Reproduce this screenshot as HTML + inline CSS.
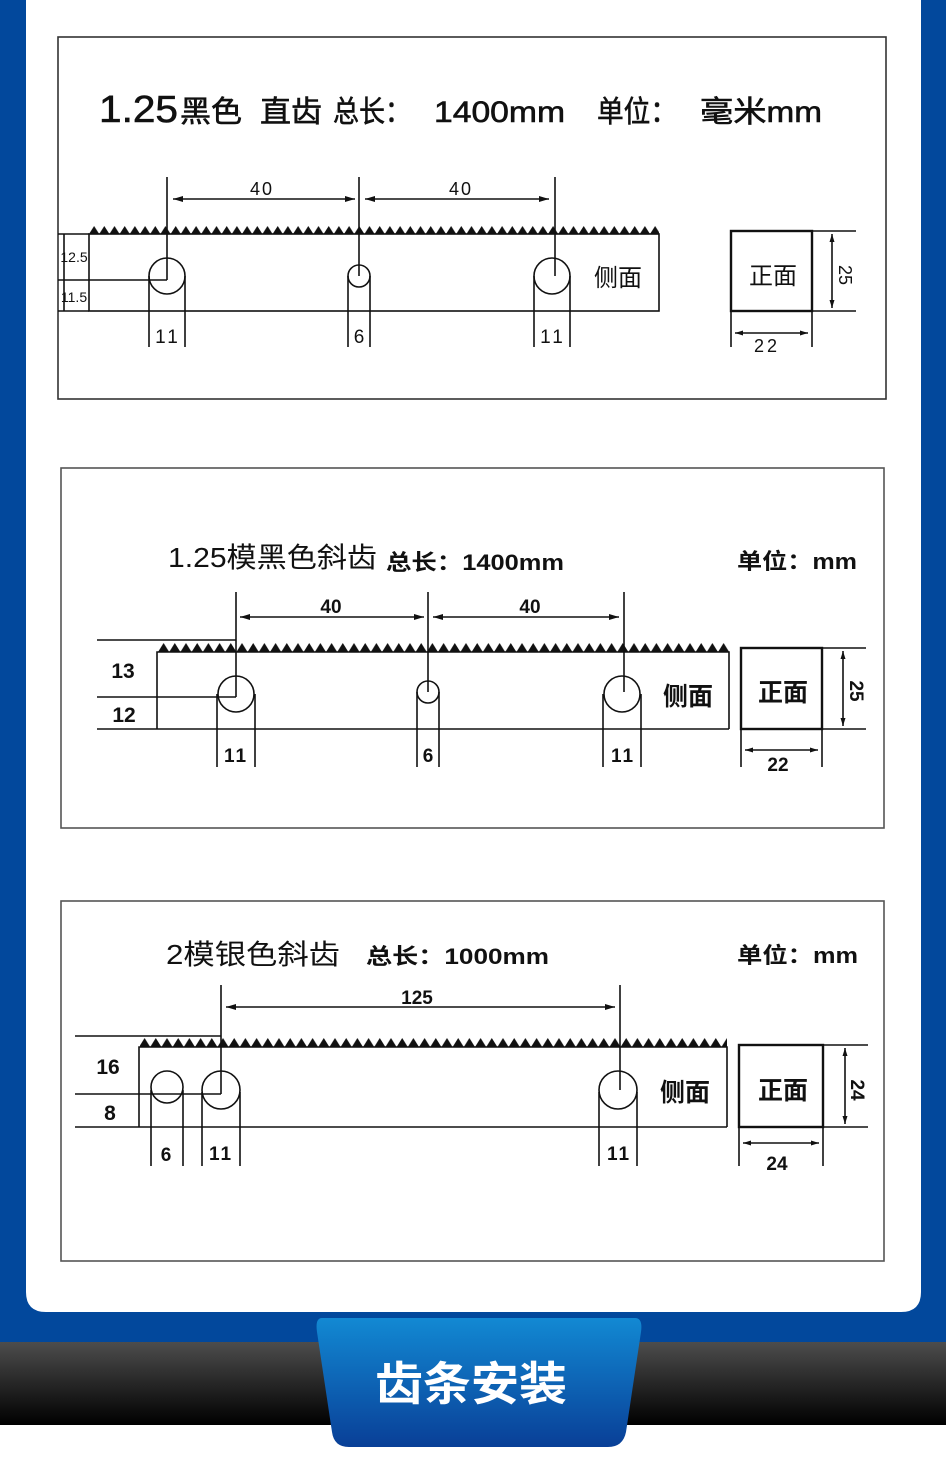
<!DOCTYPE html>
<html><head><meta charset="utf-8"><style>
html,body{margin:0;padding:0;background:#fff;}
svg{display:block;}
text{font-family:"Liberation Sans","Noto Sans CJK SC",sans-serif;fill:#111;}
</style></head><body>
<svg width="946" height="1465" viewBox="0 0 946 1465" xmlns="http://www.w3.org/2000/svg">
<defs>
<marker id="a" viewBox="0 0 10 6" refX="10" refY="3" markerWidth="10" markerHeight="6" orient="auto-start-reverse" markerUnits="userSpaceOnUse"><path d="M0,0 L10,3 L0,6z" fill="#111"/></marker>
<marker id="s" viewBox="0 0 8 5" refX="8" refY="2.5" markerWidth="8" markerHeight="5" orient="auto-start-reverse" markerUnits="userSpaceOnUse"><path d="M0,0 L8,2.5 L0,5z" fill="#111"/></marker>
<pattern id="t1" x="89" y="226" width="10.2" height="8" patternUnits="userSpaceOnUse"><path d="M0,8 L5.1,0 L10.2,8z" fill="#111"/></pattern>
<pattern id="t2" x="158" y="643" width="11.2" height="9" patternUnits="userSpaceOnUse"><path d="M0,9 L5.6,0 L11.2,9z" fill="#111"/></pattern>
<pattern id="t3" x="139" y="1038" width="11.2" height="9" patternUnits="userSpaceOnUse"><path d="M0,9 L5.6,0 L11.2,9z" fill="#111"/></pattern>
<linearGradient id="dk" x1="0" y1="0" x2="0" y2="1"><stop offset="0" stop-color="#4d4d4d"/><stop offset="1" stop-color="#000"/></linearGradient>
<linearGradient id="bl" x1="0" y1="0" x2="0" y2="1"><stop offset="0" stop-color="#1289d3"/><stop offset="1" stop-color="#093f97"/></linearGradient>
</defs>
<rect x="0" y="0" width="946" height="1342" fill="#02489c"/>
<path d="M26,0 H921 V1292 Q921,1312 901,1312 H46 Q26,1312 26,1292z" fill="#fff"/>
<rect x="0" y="1342" width="946" height="83" fill="url(#dk)"/>
<path d="M322,1318 H635 Q643,1318 641,1332 L626,1432 Q623,1447 608,1447 H349 Q334,1447 332,1432 L317,1332 Q315,1318 322,1318z" fill="url(#bl)"/>
<text x="375" y="1400" font-size="46" font-weight="bold" textLength="192" lengthAdjust="spacingAndGlyphs" style="fill:#fff">齿条安装</text>

<g stroke="#111" fill="none" stroke-width="1.6">
<!-- Diagram 1 -->
<rect x="58" y="37" width="828" height="362" stroke="#333"/>
<rect x="89" y="226" width="570" height="8" fill="url(#t1)" stroke="none"/>
<rect x="89" y="234" width="570" height="77"/>
<line x1="58" y1="234" x2="89" y2="234"/><line x1="58" y1="280" x2="167" y2="280"/><line x1="58" y1="311" x2="89" y2="311"/>
<line x1="64" y1="234" x2="64" y2="311"/>
<line x1="167" y1="177" x2="167" y2="280"/><line x1="359" y1="177" x2="359" y2="276"/><line x1="555" y1="177" x2="555" y2="276"/>
<line x1="173" y1="199" x2="355" y2="199" marker-start="url(#a)" marker-end="url(#a)"/>
<line x1="365" y1="199" x2="549" y2="199" marker-start="url(#a)" marker-end="url(#a)"/>
<circle cx="167" cy="276" r="18"/><circle cx="359" cy="276" r="11"/><circle cx="552" cy="276" r="18"/>
<line x1="149" y1="276" x2="149" y2="347"/><line x1="185" y1="276" x2="185" y2="347"/>
<line x1="348" y1="276" x2="348" y2="347"/><line x1="370" y1="276" x2="370" y2="347"/>
<line x1="534" y1="276" x2="534" y2="347"/><line x1="570" y1="276" x2="570" y2="347"/>
<rect x="731" y="231" width="81" height="80" stroke-width="2.4"/>
<line x1="812" y1="231" x2="856" y2="231"/><line x1="812" y1="311" x2="856" y2="311"/>
<line x1="832" y1="234" x2="832" y2="308" marker-start="url(#s)" marker-end="url(#s)"/>
<line x1="731" y1="311" x2="731" y2="347"/><line x1="812" y1="311" x2="812" y2="347"/>
<line x1="735" y1="333" x2="808" y2="333" marker-start="url(#s)" marker-end="url(#s)"/>

<!-- Diagram 2 -->
<rect x="61" y="468" width="823" height="360" stroke="#555"/>
<rect x="158" y="643" width="571" height="9" fill="url(#t2)" stroke="none"/>
<polyline points="157,729 157,652 729,652 729,729"/>
<line x1="97" y1="640" x2="236" y2="640"/><line x1="97" y1="697" x2="236" y2="697"/><line x1="97" y1="729" x2="729" y2="729"/>
<line x1="236" y1="592" x2="236" y2="697"/><line x1="428" y1="592" x2="428" y2="692"/><line x1="624" y1="592" x2="624" y2="692"/>
<line x1="240" y1="617" x2="424" y2="617" marker-start="url(#a)" marker-end="url(#a)"/>
<line x1="433" y1="617" x2="619" y2="617" marker-start="url(#a)" marker-end="url(#a)"/>
<circle cx="236" cy="694" r="18"/><circle cx="428" cy="692" r="11"/><circle cx="622" cy="694" r="18"/>
<line x1="217" y1="694" x2="217" y2="767"/><line x1="255" y1="694" x2="255" y2="767"/>
<line x1="417" y1="692" x2="417" y2="767"/><line x1="439" y1="692" x2="439" y2="767"/>
<line x1="603" y1="694" x2="603" y2="767"/><line x1="641" y1="694" x2="641" y2="767"/>
<rect x="741" y="648" width="81" height="81" stroke-width="2.4"/>
<line x1="822" y1="648" x2="866" y2="648"/><line x1="822" y1="729" x2="866" y2="729"/>
<line x1="843" y1="651" x2="843" y2="726" marker-start="url(#s)" marker-end="url(#s)"/>
<line x1="741" y1="729" x2="741" y2="767"/><line x1="822" y1="729" x2="822" y2="767"/>
<line x1="745" y1="750" x2="818" y2="750" marker-start="url(#s)" marker-end="url(#s)"/>

<!-- Diagram 3 -->
<rect x="61" y="901" width="823" height="360" stroke="#555"/>
<rect x="140" y="1038" width="587" height="9" fill="url(#t3)" stroke="none"/>
<polyline points="139,1127 139,1047 727,1047 727,1127"/>
<line x1="75" y1="1036" x2="221" y2="1036"/><line x1="75" y1="1094" x2="221" y2="1094"/><line x1="75" y1="1127" x2="727" y2="1127"/>
<line x1="221" y1="985" x2="221" y2="1094"/><line x1="620" y1="985" x2="620" y2="1090"/>
<line x1="226" y1="1007" x2="615" y2="1007" marker-start="url(#a)" marker-end="url(#a)"/>
<circle cx="167" cy="1087" r="16"/><circle cx="221" cy="1090" r="19"/><circle cx="618" cy="1090" r="19"/>
<line x1="151" y1="1090" x2="151" y2="1166"/><line x1="183" y1="1090" x2="183" y2="1166"/>
<line x1="202" y1="1092" x2="202" y2="1166"/><line x1="240" y1="1092" x2="240" y2="1166"/>
<line x1="599" y1="1092" x2="599" y2="1166"/><line x1="637" y1="1092" x2="637" y2="1166"/>
<rect x="739" y="1045" width="84" height="82" stroke-width="2.4"/>
<line x1="823" y1="1045" x2="868" y2="1045"/><line x1="823" y1="1127" x2="868" y2="1127"/>
<line x1="845" y1="1048" x2="845" y2="1124" marker-start="url(#s)" marker-end="url(#s)"/>
<line x1="739" y1="1127" x2="739" y2="1166"/><line x1="823" y1="1127" x2="823" y2="1166"/>
<line x1="743" y1="1143" x2="819" y2="1143" marker-start="url(#s)" marker-end="url(#s)"/>
</g>

<!-- text diagram 1 -->
<g stroke="#111" stroke-width="0.6">
<text x="99" y="122" font-size="38" textLength="79" lengthAdjust="spacingAndGlyphs">1.25</text>
<text x="180" y="122" font-size="30" textLength="62" lengthAdjust="spacingAndGlyphs">黑色</text>
<text x="260" y="122" font-size="30" textLength="62" lengthAdjust="spacingAndGlyphs">直齿</text>
<text x="333" y="122" font-size="30" textLength="78" lengthAdjust="spacingAndGlyphs">总长：</text>
<text x="434" y="122" font-size="30" textLength="131" lengthAdjust="spacingAndGlyphs">1400mm</text>
<text x="597" y="122" font-size="30" textLength="80" lengthAdjust="spacingAndGlyphs">单位：</text>
<text x="700" y="122" font-size="30" textLength="122" lengthAdjust="spacingAndGlyphs">毫米mm</text>
</g>
<text x="262" y="195" font-size="18" text-anchor="middle" letter-spacing="2">40</text>
<text x="461" y="195" font-size="18" text-anchor="middle" letter-spacing="2">40</text>
<text x="74" y="262" font-size="14" text-anchor="middle">12.5</text>
<text x="74" y="302" font-size="14" text-anchor="middle">11.5</text>
<text x="168" y="343" font-size="19" text-anchor="middle" letter-spacing="3">11</text>
<text x="359" y="343" font-size="19" text-anchor="middle">6</text>
<text x="553" y="343" font-size="19" text-anchor="middle" letter-spacing="3">11</text>
<text x="618" y="286" font-size="24" text-anchor="middle">侧面</text>
<text x="773" y="284" font-size="24" text-anchor="middle">正面</text>
<text x="0" y="0" font-size="18" transform="translate(839,275) rotate(90)" text-anchor="middle">25</text>
<text x="767" y="352" font-size="18" text-anchor="middle" letter-spacing="3">22</text>

<!-- text diagram 2 -->
<text x="168" y="567" font-size="28" textLength="209" lengthAdjust="spacingAndGlyphs">1.25模黑色斜齿</text>
<text x="386" y="570" font-size="22" font-weight="bold" textLength="178" lengthAdjust="spacingAndGlyphs">总长：1400mm</text>
<text x="737" y="569" font-size="22" font-weight="bold" textLength="120" lengthAdjust="spacingAndGlyphs">单位：mm</text>
<text x="331" y="613" font-size="19" font-weight="bold" text-anchor="middle">40</text>
<text x="530" y="613" font-size="19" font-weight="bold" text-anchor="middle">40</text>
<text x="123" y="678" font-size="21" font-weight="bold" text-anchor="middle">13</text>
<text x="124" y="722" font-size="21" font-weight="bold" text-anchor="middle">12</text>
<text x="236" y="762" font-size="19" font-weight="bold" text-anchor="middle" letter-spacing="2">11</text>
<text x="428" y="762" font-size="19" font-weight="bold" text-anchor="middle">6</text>
<text x="623" y="762" font-size="19" font-weight="bold" text-anchor="middle" letter-spacing="2">11</text>
<text x="688" y="705" font-size="25" font-weight="bold" text-anchor="middle">侧面</text>
<text x="783" y="701" font-size="25" font-weight="bold" text-anchor="middle">正面</text>
<text x="0" y="0" font-size="19" font-weight="bold" transform="translate(850,691) rotate(90)" text-anchor="middle">25</text>
<text x="778" y="771" font-size="19" font-weight="bold" text-anchor="middle">22</text>

<!-- text diagram 3 -->
<text x="166" y="964" font-size="28" textLength="174" lengthAdjust="spacingAndGlyphs">2模银色斜齿</text>
<text x="366" y="964" font-size="22" font-weight="bold" textLength="183" lengthAdjust="spacingAndGlyphs">总长：1000mm</text>
<text x="737" y="963" font-size="22" font-weight="bold" textLength="121" lengthAdjust="spacingAndGlyphs">单位：mm</text>
<text x="417" y="1004" font-size="19" font-weight="bold" text-anchor="middle">125</text>
<text x="108" y="1074" font-size="21" font-weight="bold" text-anchor="middle">16</text>
<text x="110" y="1120" font-size="21" font-weight="bold" text-anchor="middle">8</text>
<text x="166" y="1161" font-size="19" font-weight="bold" text-anchor="middle">6</text>
<text x="221" y="1160" font-size="19" font-weight="bold" text-anchor="middle" letter-spacing="2">11</text>
<text x="619" y="1160" font-size="19" font-weight="bold" text-anchor="middle" letter-spacing="2">11</text>
<text x="685" y="1101" font-size="25" font-weight="bold" text-anchor="middle">侧面</text>
<text x="783" y="1099" font-size="25" font-weight="bold" text-anchor="middle">正面</text>
<text x="0" y="0" font-size="19" font-weight="bold" transform="translate(851,1090) rotate(90)" text-anchor="middle">24</text>
<text x="777" y="1170" font-size="19" font-weight="bold" text-anchor="middle">24</text>
</svg>
</body></html>
